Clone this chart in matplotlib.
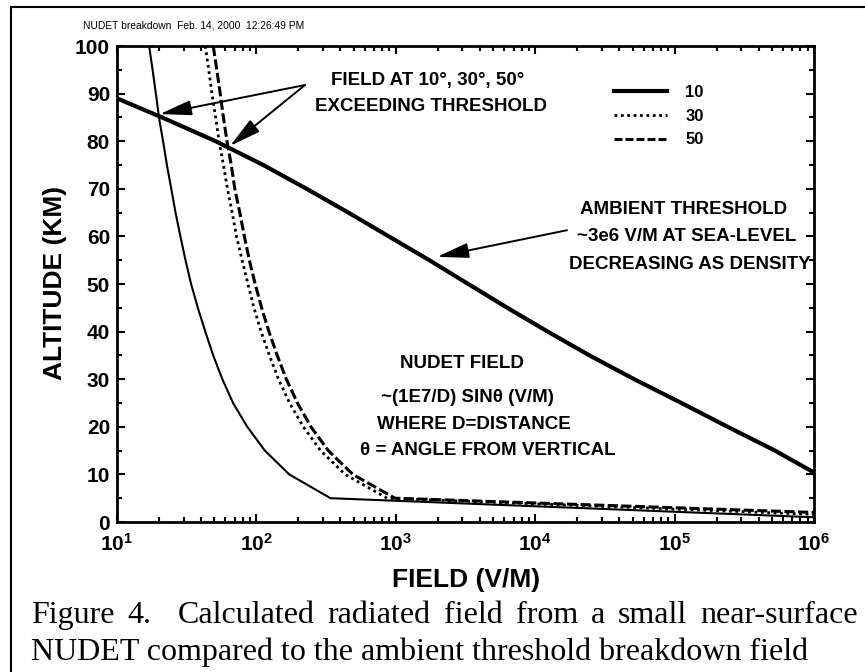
import matplotlib
matplotlib.use("Agg")
import matplotlib.pyplot as plt
from matplotlib.lines import Line2D
from matplotlib.ticker import MultipleLocator, LogLocator, NullFormatter, FixedLocator, FixedFormatter

plt.rcParams['font.family'] = ['Liberation Sans', 'DejaVu Sans']
plt.rcParams['mathtext.fontset'] = 'custom'
plt.rcParams['mathtext.rm'] = 'Liberation Sans:bold'
plt.rcParams['mathtext.bf'] = 'Liberation Sans:bold'
plt.rcParams['mathtext.it'] = 'Liberation Sans:bold'

# ---- data ----
# NUDET field curves (V/M) at 5 km altitude steps, for 10, 30 and 50 degrees
nudet_alt = [100, 95, 90, 85, 80, 75, 70, 65, 60, 55, 50, 45, 40, 35, 30, 25, 20, 15, 10, 5]
field_10 = [17, 18, 19, 20, 21.4, 22.8, 24.5, 26.3, 28.5, 31, 34, 38, 43, 49, 57, 68, 86, 115, 172, 340]
field_30 = [43, 45.5, 48, 51, 54, 58, 62, 67, 72, 79, 87, 96, 108, 124, 144, 173, 217, 289, 433, 866]
field_50 = [49, 52, 55, 58, 61.5, 66, 70, 76, 82, 89, 98, 109, 123, 141, 164, 197, 246, 328, 492, 985]
# last point of each curve (at the right edge)
end_field = 1e6
end_alt = [1.0, 1.6, 2.0]

# ambient breakdown threshold
thr_alt = [89, 85, 80, 75, 70, 65, 60, 55, 50, 45, 40, 35, 30, 25, 20, 15, 10.4]
thr_field = [10, 21, 51, 112, 229, 457, 891, 1740, 3310, 6310, 12300, 24500,
             51300, 112000, 240000, 525000, 1e6]

angles = ['10', '30', '50']
xtick_vals = [1e1, 1e2, 1e3, 1e4, 1e5, 1e6]
xtick_labels = [r'$\mathbf{10^{%d}}$' % e for e in range(1, 7)]

W, H = 865, 672


def fx(px):
    return px / W


def fy(py):
    return 1 - py / H


fig = plt.figure(figsize=(W / 100, H / 100), dpi=100)
ax = fig.add_axes([fx(117), fy(522), 697 / W, 476 / H])

dot_style = (0, (1, 1.3))
dash_style = (0, (3.3, 1.15))

ax.plot(field_10 + [end_field], nudet_alt + [end_alt[0]], color='k', lw=1.5)
ax.plot(field_30 + [end_field], nudet_alt + [end_alt[1]], color='k', lw=2.0,
        linestyle=dot_style)
ax.plot(field_50 + [end_field], nudet_alt + [end_alt[2]], color='k', lw=2.2,
        linestyle=dash_style)
ax.plot(thr_field, thr_alt, color='k', lw=3.0, solid_joinstyle='round')

ax.set_xscale('log')
ax.set_xlim(1e1, 1e6)
ax.set_ylim(0, 100)

ax.xaxis.set_major_locator(FixedLocator(xtick_vals))
ax.xaxis.set_major_formatter(FixedFormatter(xtick_labels))
ax.xaxis.set_minor_locator(LogLocator(base=10, subs=range(2, 10), numticks=20))
ax.xaxis.set_minor_formatter(NullFormatter())
ax.yaxis.set_major_locator(MultipleLocator(10))
ax.yaxis.set_minor_locator(MultipleLocator(5))

ax.tick_params(which='both', direction='in', top=True, right=True, width=1.5)
ax.tick_params(which='major', length=6)
ax.tick_params(which='minor', length=3.6)
ax.tick_params(axis='x', which='major', labelsize=15, pad=7.5)
ax.tick_params(axis='y', which='major', labelsize=15, pad=5)
for lab in ax.get_yticklabels():
    lab.set_fontweight('bold')
for s in ax.spines.values():
    s.set_linewidth(2.0)

# legend
handles = [Line2D([], [], color='k', lw=3.0),
           Line2D([], [], color='k', lw=2.0, linestyle=dot_style),
           Line2D([], [], color='k', lw=2.2, linestyle=(0, (2.6, 1.0)))]
ax.legend(handles, angles, loc='upper left', bbox_to_anchor=(0.713, 0.918),
          frameon=False, handlelength=3.2, handletextpad=1.08, labelspacing=0.52,
          borderpad=0, borderaxespad=0, prop={'weight': 'bold', 'size': 12})

# arrows
arrow_kw = dict(arrowstyle='-|>,head_length=0.97,head_width=0.23', color='k', lw=1.4,
                shrinkA=0, shrinkB=0, mutation_scale=20)
ax.annotate('', xy=(20.3, 85.7), xytext=(223, 91.8), arrowprops=arrow_kw)
ax.annotate('', xy=(64.7, 79.0), xytext=(223, 91.8), arrowprops=arrow_kw)
ax.annotate('', xy=(1977, 55.7), xytext=(16900, 61.3), arrowprops=arrow_kw)

# annotation text
note_kw = dict(fontsize=13.5, fontweight='bold', ha='center', va='baseline')
notes = [
    (428, 85, 'FIELD AT 10°, 30°, 50°'),
    (431, 111, 'EXCEEDING THRESHOLD'),
    (684, 214, 'AMBIENT THRESHOLD'),
    (687, 241, '~3e6 V/M AT SEA-LEVEL'),
    (690, 269, 'DECREASING AS DENSITY'),
    (462, 368, 'NUDET FIELD'),
    (467, 402, '~(1E7/D) SINθ (V/M)'),
    (474, 429, 'WHERE D=DISTANCE'),
    (488, 455, 'θ = ANGLE FROM VERTICAL'),
]
for x, y, s in notes:
    fig.text(fx(x), fy(y), s, **note_kw)

# axis labels
fig.text(fx(466), fy(587), 'FIELD (V/M)', fontsize=19, fontweight='bold',
         ha='center', va='baseline')
fig.text(fx(62), fy(283), 'ALTITUDE (KM)', fontsize=19, fontweight='bold',
         ha='center', va='baseline', rotation=90, rotation_mode='anchor')

# header stamp
fig.text(fx(83), fy(29), 'NUDET breakdown  Feb. 14, 2000  12:26:49 PM', fontsize=7.4,
         ha='left', va='baseline')

# frame lines (left and top)
fig.add_artist(Line2D([fx(11), fx(11)], [0, fy(7)], transform=fig.transFigure, color='k', lw=1.5))
fig.add_artist(Line2D([fx(11), 1], [fy(7), fy(7)], transform=fig.transFigure, color='k', lw=1.5))

# caption, first line justified
cap_kw = dict(fontsize=23, family=['Liberation Serif', 'DejaVu Serif'], va='baseline', ha='left')
renderer = fig.canvas.get_renderer()
words = ['Figure', '4.', 'Calculated', 'radiated', 'field', 'from', 'a', 'small', 'near-surface']
gaps = [1, 2, 1, 1, 1, 1, 1, 1]
texts = [fig.text(0, fy(623), w, **cap_kw) for w in words]
widths = [t.get_window_extent(renderer).width for t in texts]
x0, x1 = 31, 858
extra = (x1 - x0 - sum(widths)) / sum(gaps)
xpos = x0
for t, w, g in zip(texts, widths, gaps + [0]):
    t.set_x(fx(xpos))
    xpos += w + g * extra
fig.text(fx(31), fy(660), 'NUDET compared to the ambient threshold breakdown field', **cap_kw)

fig.savefig('out.png', dpi=100)
